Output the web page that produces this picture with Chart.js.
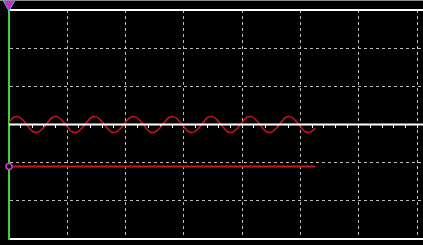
<!DOCTYPE html>
<html>
<head>
<meta charset="utf-8">
<script src="https://cdn.jsdelivr.net/npm/chart.js@4"></script>
<style>
    html, body { margin: 0; padding: 0; background: #000; }
    #wrap { position: relative; width: 423px; height: 245px; }
    #topEdge { position: absolute; left: 0; top: 0; width: 423px; height: 1px; background: #8c8c8c; }
</style>
</head>
<body>
<div id="wrap">
    <canvas id="scopeChart" width="423" height="245"></canvas>
    <div id="topEdge"></div>
</div>
<script>
// Screen: 7+ divisions across (12 samples per division), 6 divisions high
const screenSamples = 85.2;
const divSamples = 12;
const minorTicksPerDiv = 5;
const vDivs = [-3, 3];

// CH2 signal, one value per sample (volts in divisions)
const sineY = [
    0.06, 0.19, 0.20, 0.10, -0.06, -0.19, -0.20, -0.10,
    0.06, 0.19, 0.20, 0.10, -0.06, -0.19, -0.20, -0.10,
    0.06, 0.19, 0.20, 0.10, -0.06, -0.19, -0.20, -0.10,
    0.06, 0.19, 0.20, 0.10, -0.06, -0.19, -0.20, -0.10,
    0.06, 0.19, 0.20, 0.10, -0.06, -0.19, -0.20, -0.10,
    0.06, 0.19, 0.20, 0.10, -0.06, -0.19, -0.20, -0.10,
    0.06, 0.19, 0.20, 0.10, -0.06, -0.19, -0.20, -0.10,
    0.06, 0.19, 0.20, 0.10, -0.06, -0.19, -0.20, -0.10
];

// CH1 flat trace and CH2 reference level
const traceX = [0, 85.2];
const traceY = [0, 0];
const refX = [0, 63];
const refY = [-1.1, -1.1];

// trigger marker above the screen
const trigX = [0];
const trigY = [3.16];

function toPoints(xs, ys) {
    return xs.map((x, i) => ({ x: x, y: ys[i] }));
}

function initializeScope() {
    const ctx = document.getElementById('scopeChart');
    new Chart(ctx, {
        type: 'line',
        data: {
            datasets: [
                {
                    label: 'CH1',
                    data: toPoints(traceX, traceY),
                    borderColor: '#ffffff',
                    borderWidth: 2,
                    pointRadius: 0
                },
                {
                    label: 'CH2',
                    data: sineY.map((y, i) => ({ x: i, y: y })),
                    borderColor: '#c4141c',
                    borderWidth: 1.5,
                    pointRadius: 0,
                    tension: 0.4
                },
                {
                    label: 'CH2 level',
                    data: toPoints(refX, refY),
                    borderColor: '#c81818',
                    borderWidth: 2,
                    pointRadius: [3, 0],
                    pointBorderWidth: 1.5,
                    pointBorderColor: '#d838d8',
                    pointBackgroundColor: '#000000',
                    clip: false
                },
                {
                    label: 'Trigger',
                    data: toPoints(trigX, trigY),
                    showLine: false,
                    pointStyle: 'triangle',
                    rotation: 180,
                    pointRadius: 7,
                    pointBackgroundColor: '#d028d0',
                    pointBorderColor: '#30c8e0',
                    pointBorderWidth: 1,
                    clip: false
                }
            ]
        },
        options: {
            responsive: false,
            animation: false,
            events: [],
            layout: {
                autoPadding: false,
                padding: { left: 9, top: 10, right: 0, bottom: 6 }
            },
            plugins: {
                legend: { display: false },
                tooltip: { enabled: false }
            },
            scales: {
                x: {
                    type: 'linear',
                    position: 'bottom',
                    min: 0,
                    max: screenSamples,
                    ticks: { display: false, stepSize: divSamples, includeBounds: false },
                    grid: { color: '#bdbdbd', lineWidth: 1, drawTicks: false },
                    border: { display: true, color: '#ffffff', width: 2, dash: [3, 3] }
                },
                xTop: {
                    type: 'linear',
                    position: 'top',
                    min: 0,
                    max: screenSamples,
                    ticks: { display: false },
                    grid: { display: false, drawTicks: false },
                    border: { display: true, color: '#ffffff', width: 2 }
                },
                xMid: {
                    type: 'linear',
                    position: { y: 0 },
                    min: 0,
                    max: screenSamples,
                    ticks: { display: false, stepSize: divSamples / minorTicksPerDiv, includeBounds: false },
                    grid: {
                        drawOnChartArea: false,
                        drawTicks: true,
                        tickLength: 3,
                        tickColor: '#ffffff',
                        tickWidth: 1
                    },
                    border: { display: false }
                },
                y: {
                    type: 'linear',
                    position: 'left',
                    min: vDivs[0],
                    max: vDivs[1],
                    ticks: { display: false, stepSize: 1 },
                    grid: { color: '#bdbdbd', lineWidth: 1, drawTicks: false },
                    border: { display: true, color: '#3cd23c', width: 2, dash: [3, 3] }
                }
            }
        }
    });
}

document.addEventListener('DOMContentLoaded', initializeScope);
</script>
</body>
</html>
